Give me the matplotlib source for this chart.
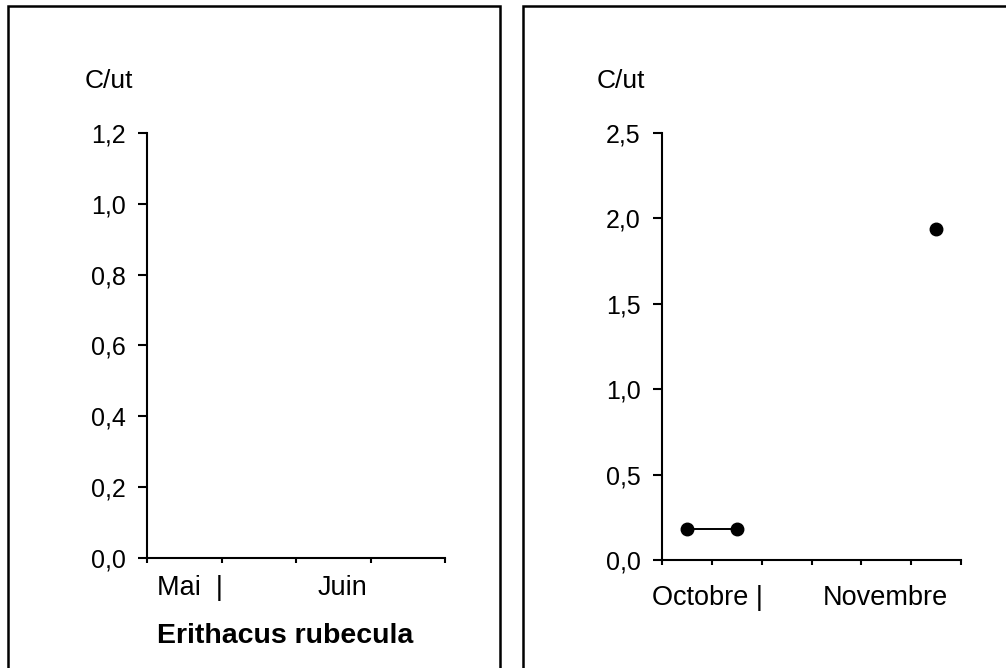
import numpy as np
import matplotlib.pyplot as plt
from matplotlib.patches import Rectangle
from matplotlib.ticker import FuncFormatter, MultipleLocator

plt.rcParams['font.family'] = ['Liberation Sans', 'DejaVu Sans']

# Spring panel: periods (May / June), no catches recorded
spring_periods = ['mai-2', 'juin-1', 'juin-2', 'juin-3']
spring_cut = [np.nan, np.nan, np.nan, np.nan]

# Autumn panel: periods (October / November)
autumn_periods = ['oct-1', 'oct-2', 'nov-1', 'nov-2', 'nov-3', 'nov-4']
autumn_cut = [0.18, 0.18, np.nan, np.nan, np.nan, 1.94]

spring_ymax, spring_ystep = 1.2, 0.2
autumn_ymax, autumn_ystep = 2.5, 0.5

ylabel = 'C/ut'
species = 'Erithacus rubecula'

W, H = 1006, 668
fig = plt.figure(figsize=(W / 100, H / 100), dpi=100)


def fx(x):
    return x / W


def fy(y):
    return 1 - y / H


comma = FuncFormatter(lambda v, p: f'{v:.1f}'.replace('.', ','))


def style_axes(ax, n, ymax, ystep):
    ax.set_xlim(0, n)
    ax.set_ylim(0, ymax)
    ax.set_xticks(np.arange(n + 1))
    ax.set_xticklabels([])
    ax.yaxis.set_major_locator(MultipleLocator(ystep))
    ax.yaxis.set_major_formatter(comma)
    for s in ('top', 'right'):
        ax.spines[s].set_visible(False)
    for s in ('left', 'bottom'):
        ax.spines[s].set_linewidth(1.5)
    ax.tick_params(axis='y', direction='out', length=6.5, width=1.5,
                   pad=9, labelsize=18)
    ax.tick_params(axis='x', direction='out', length=3.6, width=1.5)
    ax.patch.set_alpha(0)


ax1 = fig.add_axes([fx(147), 1 - 558 / H, 298 / W, 425 / H])
style_axes(ax1, len(spring_periods), spring_ymax, spring_ystep)
ax1.plot(np.arange(len(spring_periods)) + 0.5, spring_cut, color='black',
         marker='o', markersize=9, linewidth=1.4)

ax2 = fig.add_axes([fx(662), 1 - 560 / H, 299 / W, 427 / H])
style_axes(ax2, len(autumn_periods), autumn_ymax, autumn_ystep)
ax2.plot(np.arange(len(autumn_periods)) + 0.5, autumn_cut, color='black',
         marker='o', markersize=9, linewidth=1.4, clip_on=False)

# Panel frames (open at the bottom / right edge of the figure)
for x0, x1 in [(8, 500), (523, W + 30)]:
    fig.add_artist(Rectangle((fx(x0), fy(H + 30)), fx(x1) - fx(x0),
                             fy(6) - fy(H + 30), transform=fig.transFigure,
                             fill=False, edgecolor='black', linewidth=1.8))

# Axis titles and month labels
fig.text(fx(85), fy(88), ylabel, fontsize=19, ha='left', va='baseline')
fig.text(fx(597), fy(88), ylabel, fontsize=19, ha='left', va='baseline')

fig.text(fx(157), fy(595), 'Mai  |', fontsize=19.5, ha='left', va='baseline')
fig.text(fx(318), fy(595), 'Juin', fontsize=19.5, ha='left', va='baseline')
fig.text(fx(652), fy(605), 'Octobre |', fontsize=19.5, ha='left', va='baseline')
fig.text(fx(823), fy(605), 'Novembre', fontsize=19.5, ha='left', va='baseline')

fig.text(fx(157), fy(643), species, fontsize=20.5, fontweight='bold',
         ha='left', va='baseline')

fig.savefig('out.png', dpi=100)
